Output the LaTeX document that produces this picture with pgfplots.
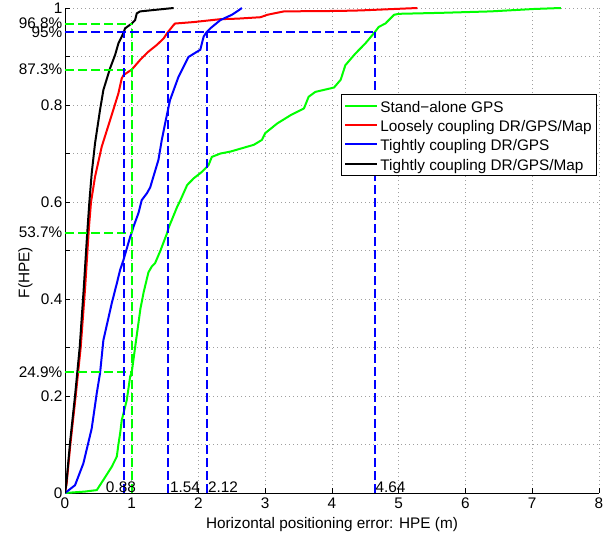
\documentclass[border=0pt]{standalone}
\usepackage{pgfplots}
\pgfplotsset{compat=1.18}
\usetikzlibrary{calc}
\usepackage{fontspec}
\setmainfont{Liberation Sans}
\definecolor{mgreen}{rgb}{0,1,0}
\definecolor{mred}{rgb}{1,0,0}
\definecolor{mblue}{rgb}{0,0,1}
\begin{document}
\begin{tikzpicture}[font=\fontsize{11.5}{13.8}\selectfont]
\begin{axis}[
  name=ax,
  scale only axis,
  width=400.5pt, height=363.75pt,
  xmin=0, xmax=8, ymin=0, ymax=1,
  axis x line*=bottom, axis y line*=left,
  axis line style={-, line width=0.6pt},
  xtick={0,1,...,8},
  ytick={0,0.1,...,1.0001},
  yticklabels={0,,0.2,,0.4,,0.6,,0.8,,1},
  extra y ticks={0.249,0.537,0.873,0.95,0.968},
  extra y tick labels={24.9\%,53.7\%,87.3\%,95\%,96.8\%},
  extra y tick style={grid=none},
  yticklabel style={xshift=1.5pt},
  /pgf/number format/assume math mode=true,
  tick align=inside,
  major tick length=3.75pt,
  tick style={black, line width=0.5pt},
  grid=major,
  major grid style={gray!75, line width=0.5pt, dash pattern=on 0.75pt off 2.25pt},
  xlabel={Horizontal positioning error: HPE (m)},
  ylabel={F(HPE)},
  ylabel style={at={(axis description cs:-0.074,0.4546)}, anchor=center},
  legend cell align=left,
  legend style={at={(0.996,0.822)}, anchor=north east, draw=black, line width=0.6pt,
    inner xsep=2pt, inner ysep=1.3pt,
    nodes={inner xsep=1.5pt, inner ysep=0pt, text height=12pt, text depth=2.4pt}},
  legend image code/.code={\draw[#1] (0pt,0pt) -- (24pt,0pt);},
  every axis plot/.append style={line width=1.5pt},
]
% Stand-alone GPS
\addplot[mgreen] coordinates {
(0,0) (0.1,0.001) (0.3,0.003) (0.476,0.006) (0.575,0.027) (0.70,0.054) (0.776,0.075)
(0.80,0.10) (0.826,0.123) (0.85,0.15) (0.926,0.192) (0.976,0.24) (1.0,0.249)
(1.06,0.31) (1.13,0.38) (1.18,0.415) (1.25,0.455) (1.30,0.467) (1.35,0.474)
(1.43,0.50) (1.527,0.535) (1.55,0.546) (1.60,0.563) (1.68,0.59) (1.73,0.604)
(1.83,0.635) (1.93,0.649) (2.05,0.662) (2.15,0.676) (2.20,0.693) (2.33,0.70)
(2.48,0.704) (2.63,0.71) (2.83,0.718) (2.95,0.728) (3.00,0.742) (3.18,0.762)
(3.38,0.779) (3.58,0.793) (3.65,0.817) (3.75,0.827) (4.03,0.836) (4.13,0.852)
(4.20,0.882) (4.35,0.906) (4.50,0.927) (4.64,0.95) (4.70,0.961) (4.80,0.968)
(4.93,0.986) (5.0,0.988) (5.63,0.99) (6.38,0.993) (7.03,0.998) (7.43,1.0)};
\addlegendentry{Stand−alone GPS}
% Loosely coupling DR/GPS/Map
\addplot[mred] coordinates {
(0,0) (0.025,0.02) (0.08,0.1) (0.16,0.2) (0.235,0.30) (0.30,0.42) (0.36,0.55) (0.39,0.60)
(0.45,0.652) (0.55,0.714) (0.676,0.769) (0.80,0.824) (0.85,0.855) (0.88,0.862)
(1.0,0.873) (1.126,0.893) (1.25,0.91) (1.377,0.924) (1.476,0.937) (1.54,0.95)
(1.627,0.965) (1.65,0.968) (1.93,0.971) (2.33,0.977) (2.58,0.978) (2.93,0.981)
(3.03,0.986) (3.28,0.993) (4.13,0.994) (4.43,0.995) (5.28,1.0)};
\addlegendentry{Loosely coupling DR/GPS/Map}
% Tightly coupling DR/GPS
\addplot[mblue] coordinates {
(0,0) (0.15,0.016) (0.275,0.061) (0.40,0.133) (0.476,0.206) (0.525,0.247)
(0.575,0.315) (0.70,0.391) (0.776,0.432) (0.826,0.46) (0.875,0.48) (0.976,0.528)
(1.0,0.537) (1.026,0.549) (1.10,0.577) (1.15,0.604) (1.227,0.618) (1.276,0.63)
(1.40,0.687) (1.45,0.728) (1.50,0.762) (1.573,0.81) (1.70,0.858) (1.85,0.899)
(2.027,0.914) (2.077,0.941) (2.12,0.95)
(2.177,0.958) (2.327,0.975) (2.50,0.986) (2.60,0.995) (2.65,1.0)};
\addlegendentry{Tightly coupling DR/GPS}
% Tightly coupling DR/GPS/Map
\addplot[black] coordinates {
(0,0) (0.02,0.02) (0.08,0.11) (0.15,0.2) (0.22,0.30) (0.28,0.42) (0.33,0.53) (0.365,0.60)
(0.40,0.659) (0.45,0.721) (0.525,0.79) (0.575,0.831) (0.676,0.876) (0.75,0.903)
(0.80,0.927) (0.85,0.941) (0.88,0.95) (0.90,0.958) (1.0,0.968) (1.05,0.975)
(1.076,0.989) (1.126,0.993) (1.627,1.0)};
\addlegendentry{Tightly coupling DR/GPS/Map}
% reference dashed lines
\addplot[mgreen, dash pattern=on 6.75pt off 3pt, forget plot] coordinates {(0,0.249) (1,0.249)};
\addplot[mgreen, dash pattern=on 6.75pt off 3pt, forget plot] coordinates {(0,0.537) (1,0.537)};
\addplot[mgreen, dash pattern=on 6.75pt off 3pt, forget plot] coordinates {(0,0.873) (1,0.873)};
\addplot[mgreen, dash pattern=on 6.75pt off 3pt, forget plot] coordinates {(0,0.968) (1,0.968)};
\addplot[mgreen, dash pattern=on 6.75pt off 3pt, forget plot] coordinates {(1,0) (1,0.968)};
\addplot[mblue, dash pattern=on 6.75pt off 3pt, forget plot] coordinates {(0,0.95) (4.64,0.95)};
\addplot[mblue, dash pattern=on 6.75pt off 3pt, forget plot] coordinates {(0.88,0) (0.88,0.95)};
\addplot[mblue, dash pattern=on 6.75pt off 3pt, forget plot] coordinates {(1.54,0) (1.54,0.95)};
\addplot[mblue, dash pattern=on 6.75pt off 3pt, forget plot] coordinates {(2.12,0) (2.12,0.95)};
\addplot[mblue, dash pattern=on 6.75pt off 3pt, forget plot] coordinates {(4.64,0) (4.64,0.95)};
\node[anchor=base west, inner sep=0pt] at (axis cs:0.61,0.002) {0.88};
\node[anchor=base west, inner sep=0pt] at (axis cs:1.57,0.002) {1.54};
\node[anchor=base west, inner sep=0pt] at (axis cs:2.14,0.002) {2.12};
\node[anchor=base west, inner sep=0pt] at (axis cs:4.65,0.002) {4.64};
\end{axis}
\pgfresetboundingbox
\path[use as bounding box] ($(ax.south west)+(-48.75pt,-32.25pt)$) rectangle ($(ax.north east)+(12pt,6pt)$);
\end{tikzpicture}
\end{document}
